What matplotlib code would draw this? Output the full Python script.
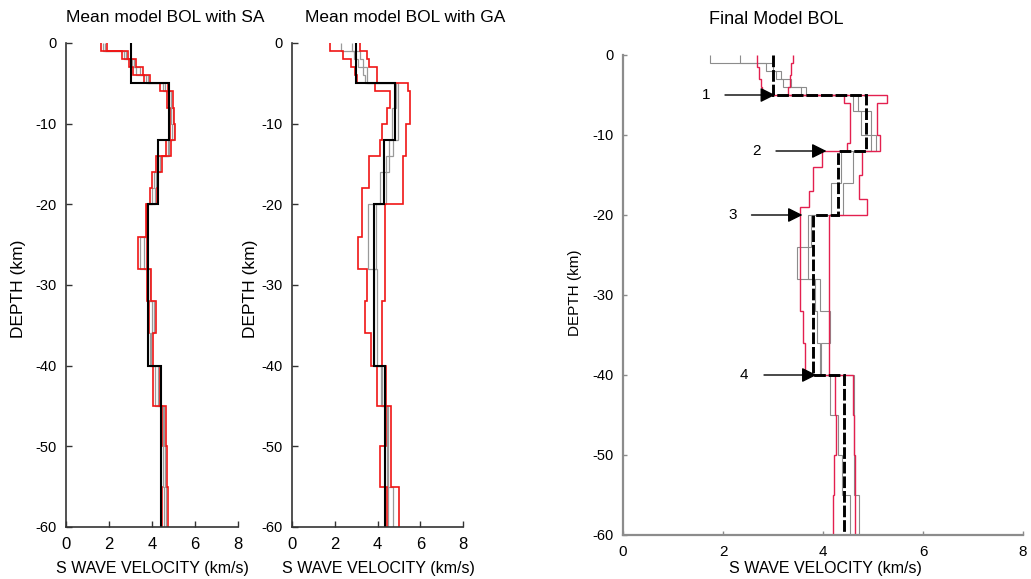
import numpy as np
import matplotlib
matplotlib.use("Agg")
import matplotlib.pyplot as plt

plt.rcParams['font.family'] = ['Liberation Sans', 'DejaVu Sans']
plt.rcParams['axes.unicode_minus'] = False

W, H = 1031, 579

# ---------------- data ----------------
# mean / final models (depth edges in km, velocities in km/s)
mean_edges = [0, 5, 12, 20, 40, 60]
mean_sa_v = [3.0, 4.8, 4.3, 3.8, 4.4]
mean_ga_v = [3.0, 4.8, 4.3, 3.84, 4.37]
final_v = [3.0, 4.85, 4.3, 3.8, 4.42]

# panel 1: SA bounds
sa_edges = [0, 1, 2, 3, 4, 5, 6, 8, 10, 12, 14, 16, 18, 20, 24, 28, 32, 36, 40, 45, 50, 55, 60]
sa_left = [1.61, 2.62, 2.95, 3.13, 3.64, 4.37, 4.71, 4.82, 4.84, 4.65, 4.17, 4.01, 3.91, 3.72, 3.35,
           3.78, 3.86, 3.81, 4.05, 4.45, 4.42, 4.45]
sa_right = [1.89, 2.90, 3.26, 3.57, 3.91, 4.73, 4.96, 5.04, 5.07, 4.87, 4.45, 4.26, 4.25, 3.78, 3.75,
            3.94, 4.20, 4.05, 4.37, 4.65, 4.68, 4.74]
sa_gray_a = [1.70, 2.70, 3.05, 3.25, 3.72, 4.50, 4.80, 4.90, 4.92, 4.73, 4.27, 4.09, 4.02, 3.74, 3.45,
             3.83, 3.98, 3.89, 4.15, 4.52, 4.50, 4.55]
sa_gray_b = [1.80, 2.80, 3.15, 3.45, 3.82, 4.62, 4.88, 4.97, 5.00, 4.80, 4.37, 4.18, 4.15, 3.76, 3.65,
             3.89, 4.10, 3.97, 4.27, 4.58, 4.60, 4.65]

# panel 2: GA bounds
ga_left_edges = [0, 1, 2, 3, 4, 5, 6, 8, 10, 12, 14, 18, 24, 28, 32, 36, 40, 45, 50, 55, 60]
ga_left = [1.78, 2.40, 2.74, 2.95, 3.03, 3.88, 4.58, 4.46, 4.21, 4.12, 3.62, 3.26, 3.10, 3.49, 3.42,
           3.68, 3.96, 4.40, 4.12, 4.43]
ga_right_edges = [0, 1, 2, 3, 5, 6, 10, 14, 20, 32, 40, 45, 55, 60]
ga_right = [3.18, 3.52, 3.62, 3.99, 5.44, 5.52, 5.33, 5.20, 4.37, 4.19, 4.40, 4.62, 5.00]
ga_gray_a_edges = [0, 1, 2, 3, 4, 5, 12, 14, 20, 28, 36, 40, 45, 50, 55, 60]
ga_gray_a = [2.29, 2.90, 3.10, 3.30, 3.40, 4.98, 4.74, 4.38, 3.55, 3.96, 3.96, 4.15, 4.43, 4.43, 4.72]
ga_gray_b_edges = [0, 1, 2, 3, 5, 8, 12, 16, 20, 28, 40, 45, 60]
ga_gray_b = [2.80, 3.20, 3.30, 3.50, 4.85, 4.70, 4.55, 4.10, 3.95, 3.85, 4.20, 4.50]

# panel 3: final model bounds
fin_left_edges = [0, 1.5, 3, 4, 5, 6, 11, 12, 14, 17, 19, 32, 36, 40, 45, 50, 55, 60]
fin_left = [2.67, 2.72, 2.75, 2.78, 4.41, 4.54, 4.47, 3.97, 3.79, 3.72, 3.54, 3.59, 3.64, 4.24, 4.26,
            4.21, 4.19]
fin_right_edges = [0, 1, 2.5, 4, 5, 6, 10, 12, 15, 18, 20, 40, 45, 50, 60]
fin_right = [3.40, 3.36, 3.33, 3.30, 5.27, 5.07, 5.14, 4.77, 4.71, 4.87, 4.11, 4.59, 4.61, 4.64]
fin_gray_edges = [0, 1, 2, 3, 4, 5, 7, 10, 12, 16, 20, 24, 28, 32, 36, 40, 45, 50, 55, 60]
fin_gray_a = [1.74, 2.85, 3.05, 3.20, 3.55, 4.60, 4.75, 4.95, 4.35, 4.15, 3.75, 3.47, 3.84, 3.87, 3.94,
              4.14, 4.30, 4.38, 4.54]
fin_gray_b = [2.33, 3.00, 3.15, 3.35, 3.65, 4.70, 4.95, 5.05, 4.60, 4.40, 3.70, 3.70, 3.94, 4.14, 3.96,
              4.61, 4.61, 4.62, 4.72]

# arrows on final model
arrow_labels = ['1', '2', '3', '4']
arrow_depths = [5, 12, 20, 40]
arrow_tail_v = [2.04, 3.06, 2.57, 2.82]
arrow_tip_v = [3.04, 4.07, 3.59, 3.87]
arrow_label_v = [1.66, 2.67, 2.19, 2.42]

x_ticks = [0, 2, 4, 6, 8]
y_ticks = [0, -10, -20, -30, -40, -50, -60]

# ---------------- figure ----------------
fig = plt.figure(figsize=(W / 100, H / 100), dpi=100)


def ax_px(l, r, t, b):
    return fig.add_axes([l / W, 1 - b / H, (r - l) / W, (b - t) / H])


def prof(ax, edges, vals, **kw):
    e = -np.asarray(edges, dtype=float)
    ax.stairs(vals, e, orientation='horizontal', baseline=None, **kw)


def style(ax, spine_color, spine_lw, tick_len, fs_x, fs_y):
    ax.set_xlim(0, 8)
    ax.set_ylim(-60, 0)
    ax.set_xticks(x_ticks)
    ax.set_yticks(y_ticks)
    ax.set_yticklabels([str(t) for t in y_ticks])
    for s in ['top', 'right']:
        ax.spines[s].set_visible(False)
    for s in ['left', 'bottom']:
        ax.spines[s].set_color(spine_color)
        ax.spines[s].set_linewidth(spine_lw)
    ax.tick_params(direction='in', length=tick_len, width=1, colors=spine_color)
    ax.tick_params(axis='x', labelsize=fs_x, labelcolor='black', pad=7)
    ax.tick_params(axis='y', labelsize=fs_y, labelcolor='black', pad=7)


RED = '#f01515'
GRAY = '#9a9a9a'

# panel 1
ax1 = ax_px(66, 238, 43, 527)
prof(ax1, sa_edges, sa_gray_a, color=GRAY, lw=0.9)
prof(ax1, sa_edges, sa_gray_b, color=GRAY, lw=0.9)
prof(ax1, sa_edges, sa_left, color=RED, lw=1.2)
prof(ax1, sa_edges, sa_right, color=RED, lw=1.2)
prof(ax1, mean_edges, mean_sa_v, color='black', lw=1.5)
style(ax1, '#333333', 1.2, 4, 12, 10.5)

# panel 2
ax2 = ax_px(292, 463, 43, 527)
prof(ax2, ga_gray_a_edges, ga_gray_a, color=GRAY, lw=0.9)
prof(ax2, ga_gray_b_edges, ga_gray_b, color=GRAY, lw=0.9)
prof(ax2, ga_left_edges, ga_left, color=RED, lw=1.2)
prof(ax2, ga_right_edges, ga_right, color=RED, lw=1.2)
prof(ax2, mean_edges, mean_ga_v, color='black', lw=1.5)
style(ax2, '#333333', 1.2, 4, 12, 10.5)

# panel 3
RED3 = '#e3204f'
GRAY3 = '#8c8c8c'
ax3 = ax_px(623, 1023, 55, 535)
prof(ax3, fin_gray_edges, fin_gray_a, color=GRAY3, lw=0.8)
prof(ax3, fin_gray_edges, fin_gray_b, color=GRAY3, lw=0.8)
prof(ax3, fin_left_edges, fin_left, color=RED3, lw=1.0)
prof(ax3, fin_right_edges, fin_right, color=RED3, lw=1.0)
prof(ax3, mean_edges, final_v, color='black', lw=2.1, linestyle=(0, (4, 1)), capstyle='butt')
style(ax3, '#8c8c8c', 1.6, 3, 11, 10.5)

for lab, d, tv, hv, lv in zip(arrow_labels, arrow_depths, arrow_tail_v, arrow_tip_v, arrow_label_v):
    ax3.annotate('', xy=(hv, -d), xytext=(tv, -d),
                 arrowprops=dict(arrowstyle='-|>', color='black', lw=1.0,
                                 mutation_scale=22, shrinkA=0, shrinkB=0))
    ax3.text(lv, -d, lab, fontsize=11, ha='center', va='center')

# titles and labels (figure pixel positions)
def ftext(x, y, s, **kw):
    fig.text(x / W, 1 - y / H, s, ha='center', va='center', **kw)


ftext(165, 17, 'Mean model BOL with SA', fontsize=12.5)
ftext(405, 17, 'Mean model BOL with GA', fontsize=12.5)
ftext(776, 20, 'Final Model BOL', fontsize=13)
ftext(152, 568, 'S WAVE VELOCITY (km/s)', fontsize=11.5)
ftext(378, 568, 'S WAVE VELOCITY (km/s)', fontsize=11.5)
ftext(825, 568, 'S WAVE VELOCITY (km/s)', fontsize=11.5)
ftext(19, 289, 'DEPTH (km)', fontsize=12.5, rotation=90)
ftext(251, 289, 'DEPTH (km)', fontsize=12.5, rotation=90)
ftext(575, 293, 'DEPTH (km)', fontsize=11, rotation=90)

fig.savefig('out.png', dpi=100)
